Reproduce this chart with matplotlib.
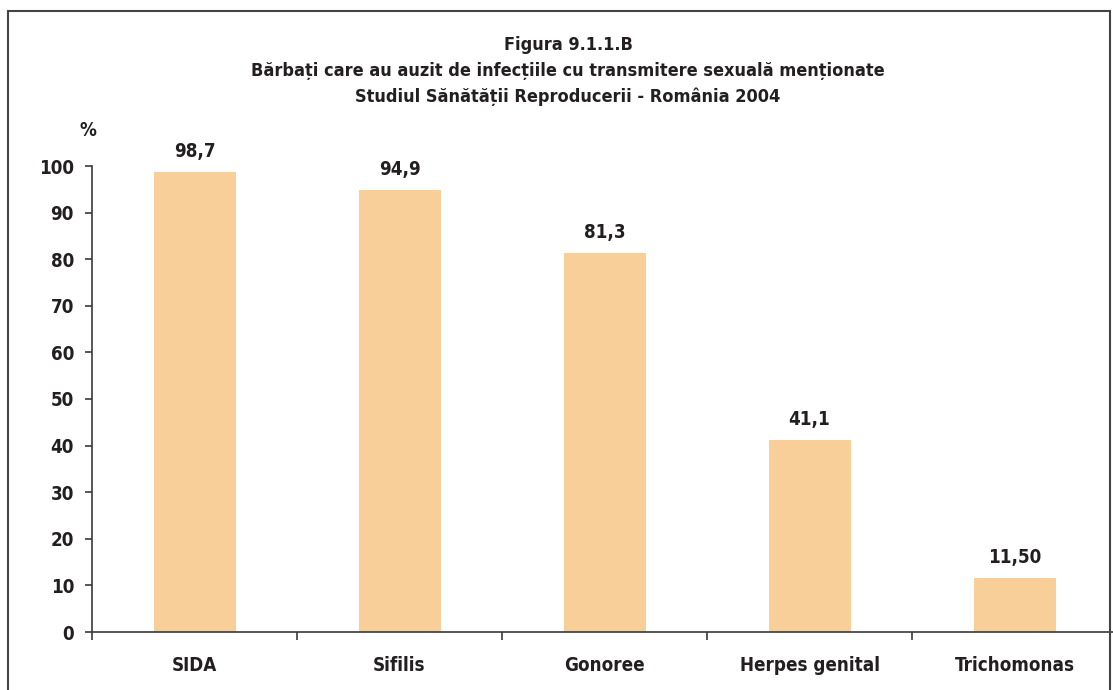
import matplotlib

matplotlib.use("Agg")
import matplotlib.pyplot as plt
from matplotlib.patches import Rectangle
from matplotlib.ticker import FixedLocator, NullFormatter

# Data
CATEGORIES = ["SIDA", "Sifilis", "Gonoree", "Herpes genital", "Trichomonas"]
VALUES = [98.7, 94.9, 81.3, 41.1, 11.5]
VALUE_LABELS = ["98,7", "94,9", "81,3", "41,1", "11,50"]
TITLE_LINES = [
    "Figura 9.1.1.B",
    "Bărbați care au auzit de infecțiile cu transmitere sexuală menționate",
    "Studiul Sănătății Reproducerii - România 2004",
]

BAR_COLOR = "#F8CF98"
TEXT_COLOR = "#231F20"
AXIS_COLOR = "#3a3a3a"

plt.rcParams["font.family"] = ["DejaVu Sans"]
plt.rcParams["font.stretch"] = "condensed"
plt.rcParams["font.weight"] = "bold"

fig = plt.figure(figsize=(11.13, 6.9), dpi=100)
ax = fig.add_axes([92 / 1113, 1 - 632 / 690, 1025 / 1113, 466 / 690])

x = range(len(CATEGORIES))
ax.bar(x, VALUES, width=0.4, color=BAR_COLOR, zorder=2)

for xi, v, lab in zip(x, VALUES, VALUE_LABELS):
    ax.annotate(lab, (xi, v), xytext=(0, 8), textcoords="offset points",
                ha="center", va="bottom", fontsize=13.5, fontweight="bold",
                color=TEXT_COLOR)

ax.set_xlim(-0.5, len(CATEGORIES) - 0.5)
ax.set_ylim(0, 100)
ax.set_yticks(range(0, 101, 10))

# category boundaries get tick marks, centers get the labels
ax.xaxis.set_major_locator(FixedLocator([i - 0.5 for i in range(len(CATEGORIES) + 1)]))
ax.xaxis.set_major_formatter(NullFormatter())
ax.xaxis.set_minor_locator(FixedLocator(list(x)))
ax.set_xticklabels(CATEGORIES, minor=True)
ax.tick_params(axis="x", which="major", length=6, width=1.2, color=AXIS_COLOR)
ax.tick_params(axis="x", which="minor", length=0, pad=17, labelsize=13.5,
               labelcolor=TEXT_COLOR)
ax.tick_params(axis="y", length=5, width=1.2, color=AXIS_COLOR, pad=8,
               labelsize=13.5, labelcolor=TEXT_COLOR)
for lbl in ax.get_xticklabels(minor=True) + ax.get_yticklabels():
    lbl.set_fontweight("bold")

for side in ["top", "right"]:
    ax.spines[side].set_visible(False)
for side in ["left", "bottom"]:
    ax.spines[side].set_color(AXIS_COLOR)
    ax.spines[side].set_linewidth(1.2)

ax.text(88 / 1113, 1 - 130 / 690, "%", transform=fig.transFigure, ha="center",
        va="center", fontsize=13.5, fontweight="bold", color=TEXT_COLOR)

for i, line in enumerate(TITLE_LINES):
    fig.text(568 / 1113, 1 - (45 + 26 * i) / 690, line, ha="center",
             va="center", fontsize=13, fontweight="bold", color=TEXT_COLOR)

# frame around the whole figure (bottom edge falls outside the image)
fig.patches.append(Rectangle((8 / 1113, -0.05), 1102 / 1113, 1.05 - 11 / 690,
                             transform=fig.transFigure, fill=False,
                             edgecolor="#444444", linewidth=1.5))

fig.savefig("out.png", dpi=100, facecolor="white")
plt.close(fig)
